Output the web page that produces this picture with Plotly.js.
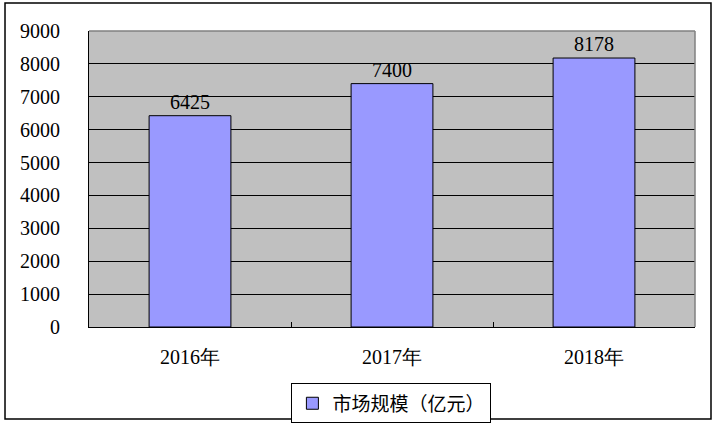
<!DOCTYPE html>
<html><head><meta charset="utf-8">
<script src="https://cdn.plot.ly/plotly-3.0.1.min.js"></script>
<style>html,body{margin:0;padding:0;background:#fff}#c{width:716px;height:426px}</style>
</head><body><div id="c"></div>
<script>
const categories = ['2016年', '2017年', '2018年'];
const values = [6425, 7400, 8178];
const seriesName = '市场规模（亿元）';
const yTicks = [0, 1000, 2000, 3000, 4000, 5000, 6000, 7000, 8000, 9000];

const serif = 'Liberation Serif, DejaVu Serif, serif';
const trace = {
  type: 'bar', x: categories, y: values, name: seriesName,
  marker: {color: '#9999FF', line: {color: '#000', width: 1}},
  text: values.map(String), textposition: 'outside', cliponaxis: false,
  textfont: {family: serif, size: 20, color: '#000'},
  showlegend: true
};
const layout = {
  width: 716, height: 426,
  margin: {l: 89, r: 21, t: 31, b: 99},
  paper_bgcolor: '#fff', plot_bgcolor: '#C0C0C0',
  bargap: 0.595,
  font: {family: serif, size: 20, color: '#000'},
  xaxis: {type: 'category', showline: true, linecolor: '#000', linewidth: 1,
    ticks: 'inside', tickson: 'boundaries', ticklen: 5, tickcolor: '#000',
    tickfont: {family: serif, size: 20}, showgrid: false, fixedrange: true,
    ticklabelstandoff: 12},
  yaxis: {range: [0, 9000], tickvals: yTicks, showline: true, linecolor: '#000', linewidth: 1,
    showgrid: true, gridcolor: '#000', gridwidth: 1, zeroline: false,
    ticks: '', ticklen: 0, tickfont: {family: serif, size: 20}, fixedrange: true,
    ticklabelstandoff: 24},
  showlegend: true,
  legend: {orientation: 'h', x: 0.499, xanchor: 'center', yref: 'container', y: 0.1, yanchor: 'top',
    bordercolor: '#000', borderwidth: 1, bgcolor: '#fff', itemwidth: 30, tracegroupgap: 0,
    font: {family: 'Noto Sans CJK SC, sans-serif', size: 19}},
  shapes: [
    {type: 'rect', xref: 'paper', yref: 'paper', x0: -0.1386, x1: 1.0264, y0: -0.3108, y1: 1.0946,
     line: {color: '#000', width: 1.5}, fillcolor: 'rgba(0,0,0,0)', layer: 'below'},
    {type: 'line', xref: 'paper', yref: 'paper', x0: 0, x1: 1, y0: 1, y1: 1, line: {color: '#808080', width: 1.5}},
    {type: 'line', xref: 'paper', yref: 'paper', x0: 1, x1: 1, y0: 0, y1: 1, line: {color: '#808080', width: 1.5}}
  ]
};
Plotly.newPlot('c', [trace], layout, {displayModeBar: false, staticPlot: true});
</script></body></html>
